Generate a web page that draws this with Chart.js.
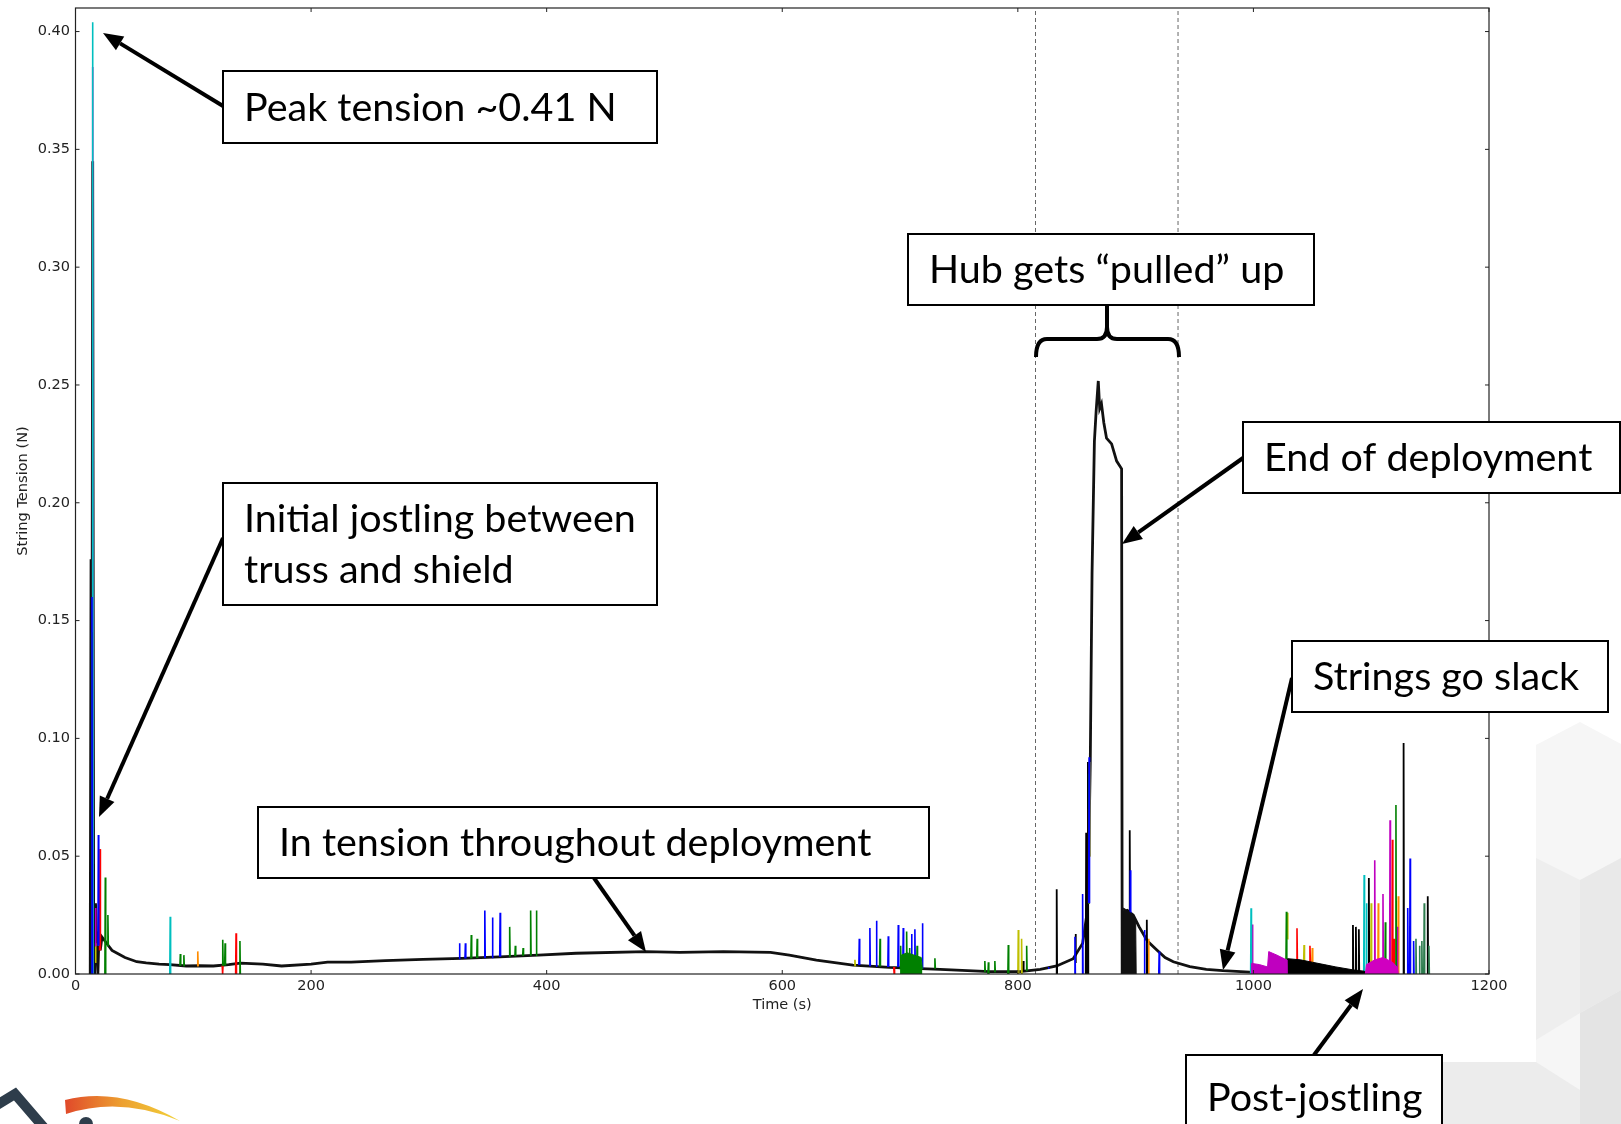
<!DOCTYPE html>
<html><head><meta charset="utf-8">
<script src="https://cdn.jsdelivr.net/npm/chart.js@4.4.1/dist/chart.umd.min.js"></script>
<style>html,body{margin:0;padding:0;background:#fff;overflow:hidden}canvas{display:block}</style>
</head><body>
<canvas id="c" width="1621" height="1124"></canvas>
<script>
// axis ticks
const xTicks=[0,200,400,600,800,1000,1200];
const yTicks=[0,0.05,0.10,0.15,0.20,0.25,0.30,0.35,0.40];

// black mean string tension trace: [time (s), tension (N)]
const baseTrace=[[12.5,0],[13.2,0.176],[13.8,0.02],[14.6,0.345],[15.4,0.03],[16.2,0],[17,0.03],[18,0.012],[19,0],[20,0.018],[21,0.01],[22.5,0.0157],[25,0.014],[28,0.012],[31,0.010],[35,0.0089],[42,0.007],[52,0.0052],[60,0.0047],[71,0.0042],[80,0.004],[94,0.0034],[105,0.0035],[117,0.0034],[130,0.004],[140,0.0046],[159,0.0042],[175,0.0034],[200,0.0042],[214,0.005],[234,0.005],[263,0.0057],[295,0.0062],[328,0.0066],[360,0.0073],[393,0.008],[425,0.0088],[484,0.0095],[513,0.0092],[550,0.0095],[590,0.0092],[606,0.008],[629,0.0059],[660,0.0038],[691,0.0028],[734,0.002],[776,0.001],[802,0.001],[819,0.002],[833,0.0034],[847,0.0065],[855,0.013],[858.5,0.025],[860.5,0.06],[861.5,0.09],[863,0.17],[865,0.226],[866.5,0.239],[868.3,0.2517],[869.5,0.24],[871,0.242],[873,0.234],[875.3,0.2274],[879.6,0.225],[883.9,0.2177],[888.1,0.2144],[888.6,0],[889.2,0.026],[893,0.027],[898,0.025],[903,0.020],[910,0.014],[918,0.0102],[925,0.007],[932,0.0052],[946,0.0031],[960,0.002],[974,0.0014],[997,0.0008],[1030,0.0006]];

// individual string spikes: [time, level before, tip]
const blueSpikes=[[14.0,0,0.16],[19.4,0.012,0.059],[326,0.0066,0.013],[331,0.0066,0.013],[347.5,0.007,0.027],[354,0.007,0.024],[360.5,0.0073,0.026],[665.4,0.0038,0.015],[674.4,0.0035,0.0195],[680,0.0033,0.0226],[690,0.003,0.016],[698.5,0.003,0.0208],[702.7,0.003,0.0195],[709.8,0.0027,0.017],[712.6,0.0027,0.019],[719,0.0026,0.0215],[826,0.0025,0.003],[848.5,0,0.0158],[855,0,0.034],[860.5,0.03,0.092],[895.5,0.02,0.044],[907.5,0,0.0187],[920,0,0.0095],[1131,0,0.028],[1133,0,0.049],[1136,0,0.014]];
const greenSpikes=[[13.8,0,0.145],[25.3,0,0.041],[27.5,0.012,0.025],[89,0.0035,0.0085],[92,0.0035,0.008],[125,0.0036,0.0145],[127,0.0036,0.013],[139.6,0,0.014],[336,0.0066,0.0165],[341,0.0068,0.015],[368.6,0.0075,0.020],[373.4,0.0076,0.012],[380,0.0078,0.011],[386.4,0.008,0.027],[391.3,0.008,0.027],[683,0.0032,0.015],[700.5,0.003,0.012],[705.6,0.003,0.018],[708,0.003,0.011],[714.5,0.003,0.012],[729.6,0.0025,0.0067],[772,0.001,0.0055],[775,0,0.005],[780.5,0.001,0.0055],[791.9,0,0.0123],[807.5,0.0015,0.012],[860.2,0.03,0.085],[1028,0.006,0.0264],[1112,0,0.022],[1121,0,0.0717]];
const redSpikes=[[13.9,0,0.09],[20.8,0.01,0.053],[124.9,0.0036,0],[136.3,0,0.0173],[695,0.003,0],[716,0.0026,0],[860,0.03,0.07],[1037,0.005,0.0194],[1048,0.005,0.012],[1118,0,0.057],[1119.5,0,0.015]];
const cyanSpikes=[[14.6,0,0.404],[20,0.012,0.037],[80.4,0,0.0243],[998,0,0.0279],[1094,0,0.042],[1096,0,0.03]];
const magentaSpikes=[[14.6,0,0.385],[17,0.012,0.028],[999,0,0.021],[1103,0,0.0483],[1110,0,0.034],[1116,0,0.0653],[1122,0,0.02]];
const yellowSpikes=[[17,0.005,0.013],[661.7,0.0035,0.006],[800.4,0,0.0187],[803.2,0,0.015],[861,0.05,0.09],[1029,0.015,0.026],[1043,0.005,0.0123],[1100,0,0.03]];
const orangeSpikes=[[103.8,0.0034,0.0096],[911,0,0.015],[1050,0.005,0.011],[1106,0,0.03],[1123,0,0.033]];
const tealSpikes=[[1138,0,0.015],[1141,0,0.012],[1143,0,0.014],[1145,0,0.030],[1149,0,0.012]];
const blackSpikes=[[804.6,0.001,0.0055],[833,0,0.036],[849,0.005,0.017],[858,0,0.06],[859.5,0,0.09],[895,0.02,0.061],[909.5,0,0.023],[1084.5,0,0.0208],[1087,0,0.02],[1089.5,0,0.019],[1098,0,0.0407],[1127.5,0,0.098],[1148,0,0.033]];

// dense oscillation envelopes (drawn filled)
const greenBand=[[700,0.002],[701,0.008],[706,0.009],[712,0.008],[718,0.007],[719,0.002]];
const magentaBand=[[998,0],[998.5,0.0045],[1005,0.004],[1012,0.003],[1013,0.0095],[1020,0.008],[1028,0.006],[1028.5,0]];
const blackBand=[[1028.5,0],[1029,0.0065],[1040,0.006],[1050,0.005],[1060,0.004],[1070,0.003],[1084,0.0018],[1094,0.0012],[1094.5,0]];
const blackBand2=[[889,0],[889.5,0.028],[893,0.027],[898,0.025],[900,0.023],[900.5,0]];
const magentaBand2=[[1095,0],[1096,0.004],[1103,0.006],[1110,0.007],[1118,0.005],[1122,0.003],[1123,0]];

// dashed window of the "pulled up" event
const windowEdges=[815,936];
const yMax=0.41;

function spikes(list){
  const out=[];
  list.forEach(([t,b,tip])=>{out.push([t-0.35,b],[t,tip],[t+0.35,b],[t+0.4,null]);});
  return out;
}
function ln(data,color,w){return {data,borderColor:color,borderWidth:w,fill:false,pointRadius:0};}
function band(data,color){return {data,borderColor:color,backgroundColor:color,borderWidth:1,fill:'origin',pointRadius:0};}

const TXT='#222';
const TF={family:'"DejaVu Sans", sans-serif',size:14.5};

// background pattern, logo
const backdrop={id:'backdrop',beforeDraw(chart){
  const c=chart.ctx;
  c.save();
  c.fillStyle='#fff';c.fillRect(0,0,chart.width,chart.height);
  const poly=(pts,col)=>{c.fillStyle=col;c.beginPath();pts.forEach((p,i)=>i?c.lineTo(p[0],p[1]):c.moveTo(p[0],p[1]));c.closePath();c.fill();};
  poly([[1536,745],[1580,722],[1621,744],[1621,1124],[1395,1124],[1440,1062],[1536,1062]],'#f6f6f6');
  poly([[1536,858],[1580,880],[1580,1013],[1536,1040]],'#eeeeee');
  poly([[1580,880],[1621,858],[1621,990],[1580,1013]],'#e9e9e9');
  poly([[1440,1062],[1536,1062],[1580,1090],[1580,1124],[1395,1124]],'#ececec');
  poly([[1580,1013],[1621,990],[1621,1124],[1580,1124]],'#e4e4e4');
  // logo fragment
  c.strokeStyle='#2e3d4b';c.lineWidth=10;c.lineJoin='miter';
  c.beginPath();c.moveTo(-8,1108);c.lineTo(15,1094);c.lineTo(46,1130);c.stroke();
  const g=c.createLinearGradient(64,0,180,0);
  g.addColorStop(0,'#e0482a');g.addColorStop(0.5,'#eda030');g.addColorStop(1,'#f2d23a');
  c.fillStyle=g;
  c.beginPath();c.moveTo(65,1100);c.quadraticCurveTo(120,1086,180,1121);
  c.quadraticCurveTo(120,1096,66,1114);c.closePath();c.fill();
  c.fillStyle='#2e3d4b';c.beginPath();c.arc(86,1124,7,Math.PI,2*Math.PI);c.fill();
  c.restore();
}};

// frame with inward ticks, callouts
const overlay={id:'overlay',afterDraw(chart){
  const c=chart.ctx,a=chart.chartArea,xs=chart.scales.x,ys=chart.scales.y;
  c.save();
  c.strokeStyle='#222';c.lineWidth=1.2;
  c.strokeRect(a.left,a.top,a.right-a.left,a.bottom-a.top);
  c.lineWidth=1;c.beginPath();
  xTicks.forEach(v=>{const p=xs.getPixelForValue(v);c.moveTo(p,a.bottom);c.lineTo(p,a.bottom-4);c.moveTo(p,a.top);c.lineTo(p,a.top+4);});
  yTicks.forEach(v=>{const p=ys.getPixelForValue(v);c.moveTo(a.left,p);c.lineTo(a.left+4,p);c.moveTo(a.right,p);c.lineTo(a.right-4,p);});
  c.stroke();

  const box=(x0,y0,x1,y1,lines,gap)=>{
    c.fillStyle='#fff';c.fillRect(x0,y0,x1-x0,y1-y0);
    c.strokeStyle='#000';c.lineWidth=2;c.strokeRect(x0,y0,x1-x0,y1-y0);
    c.fillStyle='#000';c.font='39.5px Lato, "Open Sans", sans-serif';c.textBaseline='middle';c.textAlign='left';
    const mid=(y0+y1)/2,n=lines.length;
    lines.forEach((s,i)=>c.fillText(s,x0+21,mid+(i-(n-1)/2)*gap+1));
  };
  const arrow=(x0,y0,x1,y1)=>{
    const ang=Math.atan2(y1-y0,x1-x0),L=20,W=8;
    const bx=x1-L*Math.cos(ang),by=y1-L*Math.sin(ang);
    c.strokeStyle='#000';c.lineWidth=4;c.lineCap='butt';
    c.beginPath();c.moveTo(x0,y0);c.lineTo(bx,by);c.stroke();
    c.fillStyle='#000';c.beginPath();c.moveTo(x1,y1);
    c.lineTo(bx+W*Math.sin(ang),by-W*Math.cos(ang));
    c.lineTo(bx-W*Math.sin(ang),by+W*Math.cos(ang));c.closePath();c.fill();
  };
  arrow(223,106,103,33);
  arrow(223,538,99,817);
  arrow(594,878,646,952);
  arrow(1243,458,1122,544);
  arrow(1292,678,1223,970);
  arrow(1314,1055,1363,989);

  box(223,71,657,143,['Peak tension ~0.41 N'],0);
  box(908,234,1314,305,['Hub gets \u201cpulled\u201d up'],0);
  box(1243,422,1620,493,['End of deployment'],0);
  box(223,483,657,605,['Initial jostling between','truss and shield'],51);
  box(258,807,929,878,['In tension throughout deployment'],0);
  box(1292,641,1608,712,['Strings go slack'],0);
  box(1186,1055,1442,1140,['Post-jostling'],0);

  // brace over the pulled-up window
  c.strokeStyle='#000';c.lineWidth=4;c.lineCap='butt';
  c.beginPath();
  c.moveTo(1036,357);c.quadraticCurveTo(1036,339,1047,339);c.lineTo(1097,339);
  c.quadraticCurveTo(1107,339,1107,327);c.lineTo(1107,305);
  c.moveTo(1107,327);c.quadraticCurveTo(1107,339,1117,339);c.lineTo(1168,339);
  c.quadraticCurveTo(1179,339,1179,357);c.stroke();
  c.restore();
}};

const datasets=[
  band(greenBand,'#008000'),band(magentaBand,'#bf00bf'),band(magentaBand2,'#d000c0'),
  band(blackBand,'#000000'),band(blackBand2,'#111111'),
  ln(spikes(blueSpikes),'#0000ff',1.6),
  ln(spikes(greenSpikes),'#008000',1.6),
  ln(spikes(redSpikes),'#ff0000',1.6),
  ln(spikes(cyanSpikes),'#00bfbf',1.6),
  ln(spikes(magentaSpikes),'#bf00bf',1.6),
  ln(spikes(yellowSpikes),'#bfbf00',1.6),
  ln(spikes(orangeSpikes),'#ff8c00',1.6),
  ln(spikes(tealSpikes),'#2e7d4f',1.6),
  ln(spikes(blackSpikes),'#000000',1.8),
  ln(baseTrace,'#111111',2.8)
];
windowEdges.forEach(t=>datasets.push({data:[[t,0],[t,yMax]],borderColor:'#666',borderWidth:1,borderDash:[4,3],pointRadius:0,fill:false}));

new Chart(document.getElementById('c'),{type:'line',
  data:{datasets},
  options:{responsive:false,animation:false,events:[],spanGaps:false,
    elements:{line:{tension:0,borderJoin:'round'},point:{radius:0}},
    layout:{padding:{left:0,right:132,top:8,bottom:100}},
    plugins:{legend:{display:false},tooltip:{enabled:false}},
    scales:{
      x:{type:'linear',min:0,max:1200,grid:{display:false,drawTicks:false},border:{display:false},
        afterFit:s=>{s.height=50;s.paddingLeft=0;s.paddingRight=0;},
        afterBuildTicks:s=>{s.ticks=xTicks.map(v=>({value:v}));},
        ticks:{color:TXT,font:TF,padding:4,maxRotation:0,callback:v=>String(v)},
        title:{display:true,text:'Time (s)',color:TXT,font:TF,padding:{top:0,bottom:10}}},
      y:{type:'linear',min:0,max:yMax,grid:{display:false,drawTicks:false},border:{display:false},
        afterFit:s=>{s.width=75.5;s.paddingTop=0;s.paddingBottom=0;},
        afterBuildTicks:s=>{s.ticks=yTicks.map(v=>({value:v}));},
        ticks:{color:TXT,font:TF,padding:5.5,callback:v=>v.toFixed(2)},
        title:{display:true,text:'String Tension (N)',color:TXT,font:{family:'"DejaVu Sans", sans-serif',size:14.6},padding:{top:14,bottom:0}}}
    }},
  plugins:[backdrop,overlay]
});
</script>
</body></html>
